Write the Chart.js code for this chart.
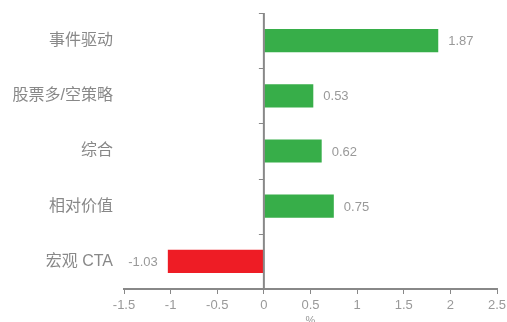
<!DOCTYPE html>
<html>
<head>
<meta charset="utf-8">
<script src="https://cdn.jsdelivr.net/npm/chart.js@4.4.0/dist/chart.umd.min.js"></script>
<style>
  html, body { margin: 0; padding: 0; background: #fff; }
  #box { width: 507px; height: 322px; }
</style>
</head>
<body>
<div id="box"><canvas id="grafico"></canvas></div>
<script>
// dados do grafico
const categorias = ['事件驱动', '股票多/空策略', '综合', '相对价值', '宏观 CTA'];
const valores = [1.87, 0.53, 0.62, 0.75, -1.03];
const ticksX = [-1.5, -1, -0.5, 0, 0.5, 1, 1.5, 2, 2.5];
const tituloX = '%';

const verde = '#37ae49';
const vermelho = '#ee1c25';
const cinza = '#888888';
const fonte = '"Liberation Sans", "Noto Sans CJK SC", sans-serif';

// linha do eixo no zero + marquinhas + rotulos das barras
const extras = {
    id: 'extras',
    afterDatasetsDraw(chart) {
        const ctx = chart.ctx;
        const x = chart.scales.x;
        const area = chart.chartArea;
        const x0 = x.getPixelForValue(0);
        const n = categorias.length;

        ctx.save();
        ctx.strokeStyle = cinza;
        ctx.lineWidth = 2;
        ctx.beginPath();
        ctx.moveTo(x0, area.top);
        ctx.lineTo(x0, area.bottom);
        ctx.stroke();
        ctx.lineWidth = 1;
        for (let i = 0; i < n; i++) {
            const y = area.top + i * (area.bottom - area.top) / n;
            ctx.beginPath();
            ctx.moveTo(x0 - 5, Math.round(y) + 0.5);
            ctx.lineTo(x0, Math.round(y) + 0.5);
            ctx.stroke();
        }

        const meta = chart.getDatasetMeta(0);
        ctx.font = '13px ' + fonte;
        ctx.fillStyle = '#999999';
        ctx.textBaseline = 'middle';
        meta.data.forEach((bar, i) => {
            const v = valores[i];
            if (v >= 0) {
                ctx.textAlign = 'left';
                ctx.fillText(v.toFixed(2), bar.x + 10, bar.y + 1);
            } else {
                ctx.textAlign = 'right';
                ctx.fillText(v.toFixed(2), bar.x - 10, bar.y + 1);
            }
        });
        ctx.restore();
    }
};

new Chart(document.getElementById('grafico'), {
    type: 'bar',
    data: {
        labels: categorias,
        datasets: [{
            data: valores,
            backgroundColor: valores.map(v => v < 0 ? vermelho : verde),
            borderWidth: 0,
            categoryPercentage: 1,
            barPercentage: 0.42
        }]
    },
    options: {
        indexAxis: 'y',
        responsive: true,
        maintainAspectRatio: false,
        animation: false,
        layout: { padding: { top: 13, right: 10, left: 0, bottom: 0 } },
        plugins: {
            legend: { display: false },
            tooltip: { enabled: false }
        },
        scales: {
            x: {
                min: -1.5,
                max: 2.5,
                afterBuildTicks: (s) => { s.ticks = ticksX.map(v => ({ value: v })); },
                afterFit: (s) => { s.height = 33; s.paddingLeft = 0; s.paddingRight = 0; },
                border: { color: cinza, width: 2 },
                grid: {
                    drawOnChartArea: false,
                    drawTicks: true,
                    tickLength: 5,
                    tickColor: cinza
                },
                ticks: {
                    color: '#999999',
                    font: { family: fonte, size: 13 },
                    padding: 4,
                    callback: (v) => String(v)
                },
                title: {
                    display: true,
                    text: tituloX,
                    color: '#999999',
                    font: { family: fonte, size: 11 },
                    padding: { top: 0, bottom: -6 }
                }
            },
            y: {
                afterFit: (s) => { s.width = 124; s.paddingTop = 0; s.paddingBottom = 0; },
                border: { display: false },
                grid: { display: false },
                ticks: {
                    color: cinza,
                    font: { family: fonte, size: 16 },
                    padding: 3
                }
            }
        }
    },
    plugins: [extras]
});
</script>
</body>
</html>
